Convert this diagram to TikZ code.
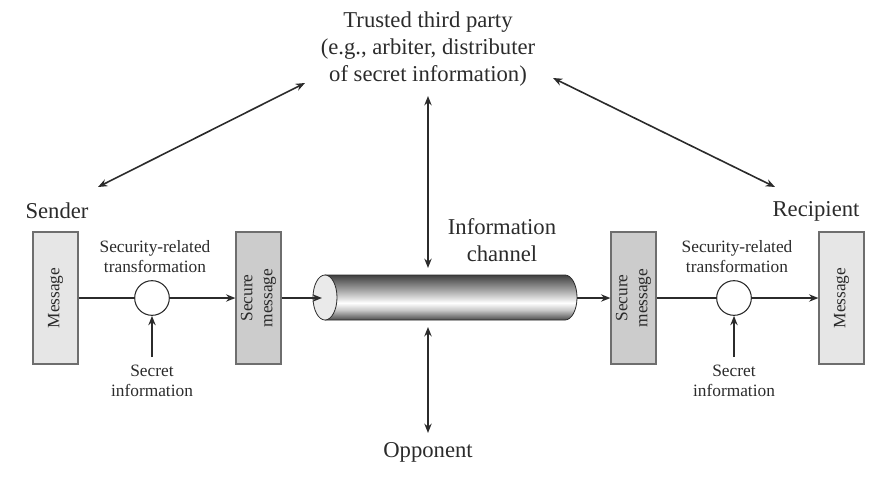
\documentclass[tikz,border=0pt]{standalone}
\usepackage{fontspec}
\setmainfont{Liberation Serif}
\usetikzlibrary{arrows.meta}
\definecolor{ink}{HTML}{2B2B2B}
\definecolor{boxline}{HTML}{6E6E6E}
\definecolor{plainfill}{HTML}{E6E6E6}
\definecolor{securefill}{HTML}{CCCCCC}
\definecolor{capfill}{HTML}{EAEAEA}
\pgfdeclareverticalshading{pipeshade}{100bp}{color(0bp)=(black!75); color(25bp)=(black!70); color(36bp)=(black!22); color(44bp)=(white); color(58bp)=(black!35); color(75bp)=(black!75); color(100bp)=(black!75)}
\tikzset{
  box/.style={draw=boxline, line width=0.9pt, minimum width=33.75pt, minimum height=99pt, inner sep=0pt},
  plain/.style={box, fill=plainfill},
  secure/.style={box, fill=securefill},
  xform/.style={circle, draw=ink, fill=white, line width=0.8pt, minimum size=26pt, inner sep=0pt},
  big/.style={font=\fontsize{17}{20}\selectfont, align=center, text=ink},
  small/.style={font=\fontsize{13}{15}\selectfont, align=center, text=ink},
  flow/.style={draw=ink, line width=1.2pt, -{Stealth[length=7pt,width=5.5pt]}},
  both/.style={draw=ink, line width=1.2pt, {Stealth[length=7pt,width=5.5pt]}-{Stealth[length=7pt,width=5.5pt]}},
}
\begin{document}
\begin{tikzpicture}[x=0.75pt, y=-0.75pt]
\useasboundingbox (0,0) rectangle (887,478);
% labels
\node[big] (ttp) at (428,49) {Trusted third party\\(e.g., arbiter, distributer\\of secret information)};
\node[big] (sender) at (57,211) {Sender};
\node[big] (recip) at (816,211) {Recipient};
\node[big] (chan) at (502,240) {Information\\channel};
\node[big] (opp) at (428,452) {Opponent};
% sender side
\node[plain] (msgL) at (55.5,298) {};
\node[small, rotate=90] (msgLtxt) at (msgL) {Message};
\node[xform] (xfL) at (152,298) {};
\node[small] (xfLlab) at (155,257) {Security-related\\transformation};
\node[small] (keyL) at (152,381) {Secret\\information};
\node[secure] (secL) at (258.5,298) {};
\node[small, rotate=90] (secLtxt) at (secL) {Secure\\message};
% recipient side
\node[secure] (secR) at (633.5,298) {};
\node[small, rotate=90] (secRtxt) at (secR) {Secure\\message};
\node[xform] (xfR) at (734,298) {};
\node[small] (xfRlab) at (737,257) {Security-related\\transformation};
\node[small] (keyR) at (734,381) {Secret\\information};
\node[plain] (msgR) at (841.5,298) {};
\node[small, rotate=90] (msgRtxt) at (msgR) {Message};
% channel pipe
\node[minimum width=198pt, minimum height=33.75pt, inner sep=0pt] (pipe) at (445,297.5) {};
\shade[shading=pipeshade] (325,275) -- (565,275) arc[start angle=-90, end angle=90, x radius=12, y radius=22.5] -- (325,320) -- cycle;
\draw[ink, line width=0.6pt] (325,275) -- (565,275) arc[start angle=-90, end angle=90, x radius=12, y radius=22.5] -- (325,320);
\draw[ink, line width=0.6pt, fill=capfill] (325,297.5) ellipse[x radius=12, y radius=22.5];
\coordinate (pipeIn) at (322,298);
% message flow
\draw[ink, line width=1.2pt] (msgL.east) -- (xfL.west);
\draw[flow] (xfL.east) -- (secL.west);
\draw[flow] (secL.east) -- (pipeIn);
\draw[flow] (pipe.east |- secR.west) -- (secR.west);
\draw[ink, line width=1.2pt] (secR.east) -- (xfR.west);
\draw[flow] (xfR.east) -- (msgR.west);
\coordinate (keyLtop) at (152,357);
\coordinate (keyRtop) at (734,357);
\draw[flow] (keyLtop) -- (xfL.south);
\draw[flow] (keyRtop) -- (xfR.south);
% third party and opponent
\coordinate (ttpA) at (305,83);
\coordinate (ttpB) at (553,78);
\coordinate (ttpC) at (428,96);
\coordinate (sendA) at (98,187);
\coordinate (recA) at (775,187);
\coordinate (pipeTop) at (428,268);
\coordinate (pipeBot) at (428,327);
\coordinate (oppA) at (428,433);
\draw[both] (ttpA) -- (sendA);
\draw[both] (ttpB) -- (recA);
\draw[both] (ttpC) -- (pipeTop);
\draw[both] (pipeBot) -- (oppA);
\end{tikzpicture}
\end{document}
